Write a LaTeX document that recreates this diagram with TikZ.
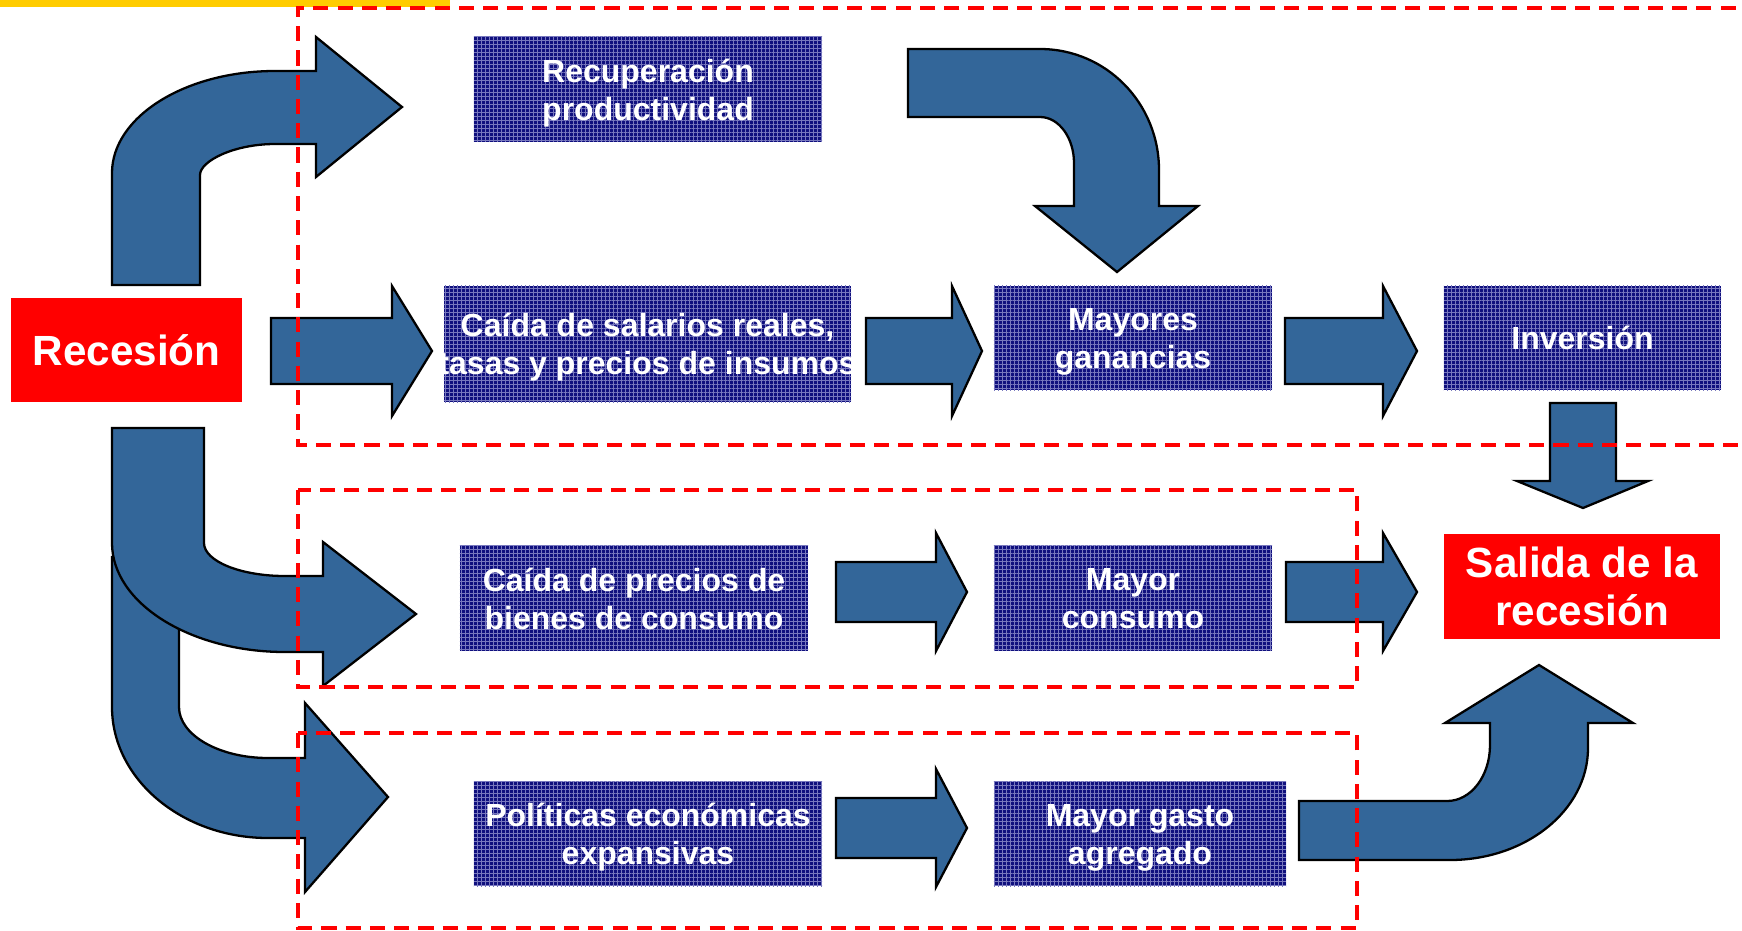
\documentclass[tikz,border=0pt]{standalone}
\usepackage{fontspec}
\setmainfont{Liberation Sans}
\usetikzlibrary{patterns.meta}
\definecolor{arrowblue}{RGB}{51,102,153}
\definecolor{boxnavy}{RGB}{16,16,126}
\definecolor{gridblue}{RGB}{120,120,190}
\definecolor{topyellow}{RGB}{255,204,0}
\newcommand\blkright[6]{\draw[barrow] (#1,#4-#5) -- (#2,#4-#5) -- (#2,#4-#6) -- (#3,#4) -- (#2,#4+#6) -- (#2,#4+#5) -- (#1,#4+#5) -- cycle;}
\begin{document}
\begin{tikzpicture}[x=0.01cm,y=-0.01cm,
  barrow/.style={fill=arrowblue, draw=black, line width=0.65pt, line join=miter},
  bluebox/.style={fill=boxnavy, inner sep=0pt, text=white, align=center, text depth=0pt,
     font=\bfseries\fontsize{9.1}{10.8}\selectfont,
     postaction={pattern={Hatch[distance=1.14pt, line width=0.28pt]}, pattern color=gridblue}},
  redbox/.style={fill=red, inner sep=0pt, text=white, align=center,
     font=\bfseries\fontsize{12}{13.7}\selectfont},
  zone/.style={draw=red, line width=1.05pt, dash pattern=on 4.3pt off 2.6pt}]
\useasboundingbox (0,0) rectangle (1742,930);
\clip (0,0) rectangle (1742,930);
\fill[topyellow] (0,0) rectangle (450,7);

% boxes
\node[redbox, minimum width=2.31cm, minimum height=1.04cm] (rec) at (126.5,350) {Recesión};
\node[bluebox, minimum width=3.48cm, minimum height=1.05cm] (recup) at (648,89.5) {Recuperación\\productividad};
\node[bluebox, minimum width=4.07cm, minimum height=1.16cm] (sal) at (647.5,344) {\makebox[0pt]{Caída de salarios reales,}\\\makebox[0pt]{tasas y precios de insumos}};
\node[bluebox, minimum width=2.78cm, minimum height=1.04cm] (gan) at (1133,338) {Mayores\\ganancias};
\node[bluebox, minimum width=2.77cm, minimum height=1.04cm] (inv) at (1582.5,338) {Inversión};
\node[bluebox, minimum width=3.48cm, minimum height=1.05cm] (pre) at (634,598.5) {Caída de precios de\\bienes de consumo};
\node[bluebox, minimum width=2.78cm, minimum height=1.05cm] (cons) at (1133,598.5) {Mayor\\consumo};
\node[bluebox, minimum width=3.48cm, minimum height=1.04cm] (pol) at (648,834) {Políticas económicas\\expansivas};
\node[bluebox, minimum width=2.92cm, minimum height=1.04cm] (gasto) at (1140,834) {Mayor gasto\\agregado};
\node[redbox, minimum width=2.76cm, minimum height=1.05cm] (sal2) at (1582,586.5) {Salida de la\\recesión};

% curved arrow up to Recuperacion
\draw[barrow] (112,285) -- (112,173) .. controls (112,117) and (185,71) .. (275,71)
  -- (316,71) -- (316,37) -- (402,107) -- (316,177) -- (316,144) -- (275,144)
  .. controls (234,144) and (200,161) .. (200,175) -- (200,285) -- cycle;

% curved arrow down to Mayores ganancias
\draw[barrow] (908,49) -- (1040,49) .. controls (1106,49) and (1159,103) .. (1159,170)
  -- (1159,206) -- (1198,206) -- (1117,272) -- (1035,206) -- (1074,206) -- (1074,163)
  .. controls (1074,138) and (1059,117) .. (1040,117) -- (908,117) -- cycle;

% lower curved arrow to Politicas (behind)
\draw[barrow] (112,557) -- (179,557) -- (179,707) .. controls (179,735) and (219,758) .. (268,758)
  -- (305,758) -- (305,703) -- (388,797) -- (305,892) -- (305,838) -- (268,838)
  .. controls (182,838) and (112,779) .. (112,707) -- cycle;

% curved arrow to Caida de precios
\draw[barrow] (112,428) -- (204,428) -- (204,543) .. controls (204,561) and (240,576) .. (285,576)
  -- (323,576) -- (323,542) -- (416,614) -- (323,686) -- (323,652) -- (285,652)
  .. controls (190,652) and (112,603) .. (112,543) -- cycle;

% curved arrow up to Salida
\draw[barrow] (1299,801) -- (1447,801) .. controls (1471,801) and (1490,776) .. (1490,745)
  -- (1490,723) -- (1445,723) -- (1539,665) -- (1633,723) -- (1588,723) -- (1588,748)
  .. controls (1588,810) and (1526,860) .. (1450,860) -- (1299,860) -- cycle;

% straight arrows
\blkright{271}{392}{432}{351}{33}{65}
\blkright{866}{952}{982}{351}{33}{65}
\blkright{1285}{1383}{1417}{351}{33}{65}
\blkright{836}{936}{967}{592}{30}{59}
\blkright{1286}{1383}{1417}{592}{30}{59}
\blkright{836}{936}{967}{828}{30}{59}

% down arrow Inversion -> Salida
\draw[barrow] (1550,403) -- (1616,403) -- (1616,481) -- (1648,481) -- (1583,508) -- (1517,481) -- (1550,481) -- cycle;

% dashed zones
\draw[zone] (1760,8) -- (298,8) -- (298,445) -- (1760,445);
\draw[zone] (298,490) rectangle (1357,687);
\draw[zone] (298,733) rectangle (1357,928);
\end{tikzpicture}
\end{document}
